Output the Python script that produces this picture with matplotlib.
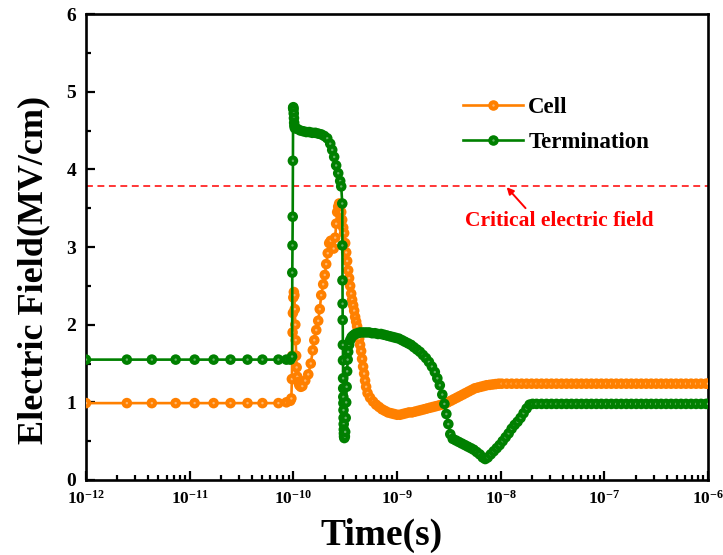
import numpy as np
import matplotlib
matplotlib.use("Agg")
import matplotlib.pyplot as plt
from matplotlib.ticker import LogLocator, MultipleLocator, NullFormatter
from matplotlib.lines import Line2D
from matplotlib.legend_handler import HandlerTuple

plt.rcParams['font.family'] = ['Liberation Serif', 'DejaVu Serif']
plt.rcParams['font.weight'] = 'bold'
plt.rcParams['mathtext.fontset'] = 'custom'
plt.rcParams['mathtext.rm'] = 'Liberation Serif:bold'
plt.rcParams['mathtext.bf'] = 'Liberation Serif:bold'
plt.rcParams['mathtext.it'] = 'Liberation Serif:bold'

# ---------------- data (log10 of time in s, field in MV/cm) ----------------
tail_logt = [-7.654, -7.606, -7.558, -7.510, -7.462, -7.413, -7.365, -7.317, -7.269, -7.221,
             -7.173, -7.125, -7.077, -7.029, -6.981, -6.933, -6.885, -6.837, -6.788, -6.740,
             -6.692, -6.644, -6.596, -6.548, -6.500, -6.452, -6.404, -6.356, -6.308, -6.260,
             -6.212, -6.163, -6.115, -6.067, -6.019, -6.000]

cell_logt = [-12.000, -11.606, -11.365, -11.135, -10.952, -10.769, -10.606, -10.442, -10.298, -10.144,
             -10.067, -10.029,
             -10.019, -10.014, -10.010, -10.007, -10.004, -10.000, -9.995, -9.990, -9.986, -9.981,
             -9.977, -9.973, -9.968, -9.962, -9.952, -9.942, -9.928, -9.913,
             -9.885, -9.856, -9.832, -9.812, -9.798, -9.779, -9.760, -9.745, -9.731, -9.712,
             -9.697, -9.683, -9.668, -9.654, -9.639, -9.625, -9.611, -9.596, -9.587, -9.577,
             -9.567, -9.558, -9.548, -9.538, -9.529, -9.519, -9.510, -9.500, -9.490, -9.481,
             -9.471, -9.462, -9.452, -9.442, -9.433, -9.423, -9.413, -9.404, -9.394, -9.385,
             -9.375, -9.365, -9.356, -9.346, -9.337, -9.327, -9.317, -9.308, -9.298, -9.284,
             -9.260, -9.231, -9.202, -9.173, -9.144, -9.115, -9.087, -9.058, -9.029, -9.000,
             -8.971, -8.942, -8.913, -8.885, -8.856, -8.827, -8.798, -8.769, -8.740, -8.712,
             -8.683, -8.654, -8.625, -8.596, -8.567, -8.538, -8.510, -8.481, -8.452, -8.423,
             -8.394, -8.365, -8.337, -8.308, -8.279, -8.250, -8.221, -8.192, -8.163, -8.135,
             -8.106, -8.077, -8.048, -8.019, -7.990,
             -7.942, -7.894, -7.846, -7.798, -7.750, -7.702] + tail_logt

cell_E = [0.99, 0.99, 0.99, 0.99, 0.99, 0.99, 0.99, 0.99, 0.99, 0.99,
          1.00, 1.02,
          1.05, 1.30, 1.60, 1.90, 2.15, 2.35, 2.42, 2.38, 2.20, 2.00,
          1.80, 1.60, 1.45, 1.33, 1.26, 1.22, 1.20, 1.21,
          1.28, 1.36, 1.50, 1.67, 1.80, 1.93, 2.05, 2.20, 2.38, 2.52,
          2.64, 2.78, 2.92, 3.05, 3.08, 3.00, 2.98, 3.12, 3.30, 3.45,
          3.52, 3.56, 3.52, 3.45, 3.35, 3.25, 3.18, 3.05, 2.93, 2.82,
          2.70, 2.60, 2.50, 2.40, 2.32, 2.25, 2.18, 2.10, 2.04, 1.98,
          1.90, 1.82, 1.74, 1.66, 1.56, 1.46, 1.37, 1.28, 1.20, 1.12,
          1.06, 1.01, 0.97, 0.94, 0.91, 0.89, 0.87, 0.86, 0.85, 0.84,
          0.84, 0.85, 0.86, 0.87, 0.87, 0.88, 0.89, 0.90, 0.91, 0.92,
          0.93, 0.94, 0.95, 0.96, 0.97, 0.98, 1.00, 1.02, 1.04, 1.06,
          1.08, 1.10, 1.12, 1.14, 1.16, 1.18, 1.19, 1.20, 1.21, 1.22,
          1.225, 1.23, 1.235, 1.24, 1.24,
          1.24, 1.24, 1.24, 1.24, 1.24, 1.24,
          1.24, 1.24, 1.24, 1.24, 1.24, 1.24, 1.24, 1.24, 1.24, 1.24,
          1.24, 1.24, 1.24, 1.24, 1.24, 1.24, 1.24, 1.24, 1.24, 1.24,
          1.24, 1.24, 1.24, 1.24, 1.24, 1.24, 1.24, 1.24, 1.24, 1.24,
          1.24, 1.24, 1.24, 1.24, 1.24, 1.24]

term_logt = [-12.000, -11.606, -11.365, -11.135, -10.952, -10.769, -10.606, -10.442, -10.298, -10.144,
             -10.067, -10.029,
             -10.012, -10.010, -10.008, -10.006, -10.004, -10.002, -10.000, -9.998, -9.996, -9.994,
             -9.992, -9.990, -9.985,
             -9.962, -9.933, -9.904, -9.875, -9.846, -9.817, -9.788, -9.760, -9.731, -9.702,
             -9.673, -9.644, -9.625, -9.606, -9.587, -9.567, -9.548, -9.538,
             -9.528, -9.527, -9.526, -9.525, -9.524, -9.522, -9.521, -9.520, -9.519, -9.518,
             -9.517, -9.516, -9.515, -9.514, -9.513, -9.512, -9.511, -9.508, -9.503,
             -9.500, -9.495, -9.490, -9.486, -9.481, -9.476, -9.471, -9.462, -9.452, -9.438,
             -9.423, -9.404, -9.380,
             -9.356, -9.327, -9.298, -9.269, -9.240, -9.212, -9.183, -9.154, -9.125, -9.096,
             -9.067, -9.038, -9.010, -8.981, -8.952, -8.923, -8.894, -8.865, -8.837, -8.808,
             -8.779, -8.750, -8.721, -8.692, -8.663, -8.635, -8.611, -8.587, -8.563, -8.543,
             -8.524, -8.505, -8.486,
             -8.462, -8.433, -8.404, -8.375, -8.346, -8.317, -8.288, -8.260, -8.231, -8.202,
             -8.173, -8.149,
             -8.125, -8.096, -8.067, -8.038, -8.010, -7.981, -7.952, -7.923, -7.894, -7.865,
             -7.837, -7.808, -7.779, -7.750, -7.721, -7.692] + tail_logt

term_E = [1.55, 1.55, 1.55, 1.55, 1.55, 1.55, 1.55, 1.55, 1.55, 1.55,
          1.55, 1.55,
          1.59, 2.67, 3.02, 3.39, 4.11, 4.79, 4.80, 4.77, 4.72, 4.66,
          4.60, 4.56, 4.53,
          4.52, 4.50, 4.49, 4.48, 4.48, 4.47, 4.47, 4.46, 4.45, 4.43,
          4.40, 4.33, 4.25, 4.16, 4.05, 3.95, 3.85, 3.78,
          3.56, 3.02, 2.57, 2.27, 2.06, 1.74, 1.54, 1.31, 1.18, 1.07,
          0.99, 0.90, 0.80, 0.72, 0.65, 0.60, 0.56, 0.54, 0.56,
          0.62, 0.80, 1.00, 1.20, 1.40, 1.55, 1.65, 1.74, 1.80, 1.84,
          1.86, 1.88, 1.89,
          1.90, 1.90, 1.90, 1.90, 1.89, 1.89, 1.88, 1.88, 1.87, 1.86,
          1.85, 1.84, 1.83, 1.82, 1.80, 1.78, 1.76, 1.74, 1.71, 1.68,
          1.65, 1.61, 1.57, 1.52, 1.46, 1.39, 1.31, 1.22, 1.10, 0.98,
          0.85, 0.72, 0.59,
          0.53, 0.51, 0.49, 0.47, 0.45, 0.43, 0.41, 0.39, 0.36, 0.33,
          0.29, 0.27,
          0.29, 0.33, 0.37, 0.41, 0.45, 0.50, 0.55, 0.60, 0.66, 0.71,
          0.75, 0.80, 0.86, 0.92, 0.97, 0.98,
          0.98, 0.98, 0.98, 0.98, 0.98, 0.98, 0.98, 0.98, 0.98, 0.98,
          0.98, 0.98, 0.98, 0.98, 0.98, 0.98, 0.98, 0.98, 0.98, 0.98,
          0.98, 0.98, 0.98, 0.98, 0.98, 0.98, 0.98, 0.98, 0.98, 0.98,
          0.98, 0.98, 0.98, 0.98, 0.98, 0.98]

critical_field = 3.78
series_names = ["Cell", "Termination"]
x_ticks_exp = [-12, -11, -10, -9, -8, -7, -6]
y_ticks = [0, 1, 2, 3, 4, 5, 6]

# ---------------- plotting ----------------
assert len(cell_logt) == len(cell_E), (len(cell_logt), len(cell_E))
assert len(term_logt) == len(term_E), (len(term_logt), len(term_E))

ORANGE = '#FF8000'
ORANGE_HI = '#FFB870'
GREEN = '#008000'
GREEN_HI = '#66B266'
RED = '#FF0000'

fig = plt.figure(figsize=(7.23, 5.55), dpi=100)
ax = fig.add_axes([86 / 723, 1 - 480 / 555, 622 / 723, 466 / 555])

MS = 58   # marker area (pt^2)
HS = 3    # highlight area


def draw_series(logt, vals, color, hi, z):
    t = 10 ** np.asarray(logt, dtype=float)
    v = np.asarray(vals, dtype=float)
    ax.plot(t, v, color=color, lw=1.9, zorder=z, solid_capstyle='round')
    tt = np.repeat(t, 2)
    vv = np.repeat(v, 2)
    sizes = np.tile([MS, HS], len(t))
    cols = [color, hi] * len(t)
    ax.scatter(tt, vv, s=sizes, c=cols, linewidths=0, zorder=z + 0.5)


draw_series(cell_logt, cell_E, ORANGE, ORANGE_HI, 3)
draw_series(term_logt, term_E, GREEN, GREEN_HI, 5)

ax.axhline(critical_field, color=RED, lw=1.1, ls=(0, (4.5, 3.0)), zorder=2)

ax.set_xscale('log')
ax.set_xlim(1e-12, 1e-6)
ax.set_ylim(0, 6)

ax.xaxis.set_minor_locator(LogLocator(base=10, subs=np.arange(2, 10), numticks=20))
ax.xaxis.set_minor_formatter(NullFormatter())
ax.set_xticks([10.0 ** e for e in x_ticks_exp])
ax.set_xticklabels([r'$\mathbf{10^{%d}}$' % e for e in x_ticks_exp])
ax.set_yticks(y_ticks)
ax.set_yticklabels([str(v) for v in y_ticks])
ax.yaxis.set_minor_locator(MultipleLocator(0.5))

ax.tick_params(which='both', direction='in', top=False, right=False, width=1.6)
ax.tick_params(which='major', length=6.5)
ax.tick_params(which='minor', length=3.3)
ax.tick_params(axis='x', which='major', labelsize=12.5, pad=7)
ax.tick_params(axis='y', which='major', labelsize=14, pad=7)
for lab in ax.get_yticklabels():
    lab.set_fontweight('bold')
for sp in ax.spines.values():
    sp.set_linewidth(1.9)

ax.set_xlabel('Time(s)', fontsize=27, fontweight='bold')
ax.set_ylabel('Electric Field(MV/cm)', fontsize=26, fontweight='bold')
ax.xaxis.set_label_coords(0.475, -0.082)
ax.yaxis.set_label_coords(-0.058, 0.45)

# annotation
ax.annotate('', xy=(10 ** -7.942, 3.77), xytext=(10 ** -7.760, 3.50),
            arrowprops=dict(arrowstyle='-|>', color=RED, lw=1.4, mutation_scale=10,
                            shrinkA=0, shrinkB=0), zorder=6)
ax.text(10 ** -7.433, 3.33, 'Critical electric field', color=RED, fontsize=15.5,
        fontweight='bold', ha='center', va='center', zorder=6)

# legend
h_cell = (Line2D([], [], color=ORANGE, lw=1.9, marker='o', markersize=7.6, markeredgewidth=0),
          Line2D([], [], ls='none', marker='o', color=ORANGE_HI, markersize=1.7, markeredgewidth=0))
h_term = (Line2D([], [], color=GREEN, lw=1.9, marker='o', markersize=7.6, markeredgewidth=0),
          Line2D([], [], ls='none', marker='o', color=GREEN_HI, markersize=1.7, markeredgewidth=0))
leg = fig.legend([h_cell, h_term], series_names, handler_map={tuple: HandlerTuple(ndivide=1, pad=0)},
                 loc='upper left', bbox_to_anchor=(463 / 723, 1 - 97 / 555), frameon=False,
                 prop=dict(size=16.5, weight='bold'), handlelength=2.6, handletextpad=0.25,
                 labelspacing=0.6, borderpad=0, borderaxespad=0)

fig.savefig('out.png', dpi=100)
